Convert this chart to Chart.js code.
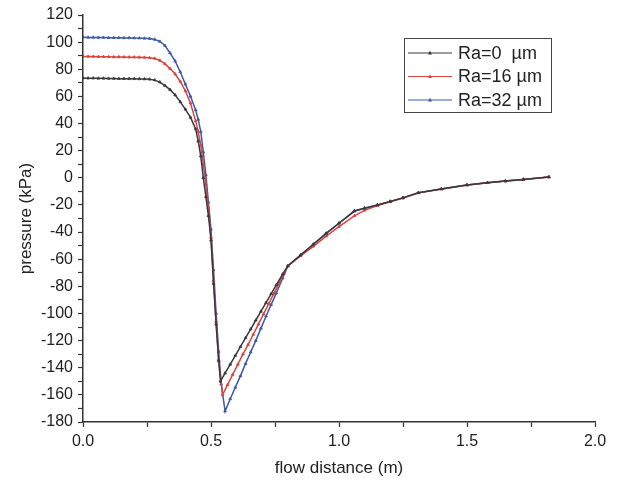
<!DOCTYPE html>
<html>
<head>
<meta charset="utf-8">
<script src="https://cdn.jsdelivr.net/npm/chart.js@4.4.1/dist/chart.umd.min.js"></script>
<style>
html,body{margin:0;padding:0;background:#fff;}
#wrap{width:617px;height:485px;position:relative;}
</style>
</head>
<body>
<div id="wrap"><canvas id="c" width="617" height="485"></canvas></div>
<script>
// ---- data ----
const seriesNames = ["Ra=0  µm", "Ra=16 µm", "Ra=32 µm"];
const seriesColors = ["#3a3a3a", "#d9443f", "#3d5aa8"];

const xRa0 = [0,0.02,0.04,0.06,0.08,0.10,0.12,0.14,0.16,0.18,0.20,0.22,0.24,0.26,
  0.28,0.30,0.32,0.34,0.36,0.38,0.40,0.42,0.44,0.45,0.46,0.47,0.48,0.49,0.50,0.51,0.52,0.53,0.537,
  0.555,0.575,0.595,0.615,0.635,0.655,0.675,0.695,0.715,0.735,0.755,0.78,0.80,
  0.85,0.90,0.95,1.00,1.06,1.10,1.15,1.20,1.25,1.31,1.40,1.50,1.58,1.65,1.72,1.82];
const yRa0 = [73.5,73.4,73.4,73.3,73.3,73.2,73.2,73.1,73.1,73.0,73.0,72.9,72.8,72.6,
  72,70.5,68,65,61,56,50.5,44.5,36,27,16,0,-14,-28,-46,-78,-108,-135,-150,
  -144,-137.5,-131,-124.5,-118,-111.5,-105,-98.5,-92,-85.5,-79,-71,-65,
  -57,-49,-41,-33.5,-24.5,-22.4,-20,-17.4,-14.8,-11,-8.2,-5.3,-3.6,-2.4,-1.2,0.6];

const xRa16 = [0,0.02,0.04,0.06,0.08,0.10,0.12,0.14,0.16,0.18,0.20,0.22,0.24,0.26,
  0.28,0.30,0.32,0.34,0.36,0.38,0.40,0.42,0.44,0.45,0.46,0.47,0.48,0.49,0.50,0.51,0.52,0.53,0.545,
  0.565,0.585,0.605,0.625,0.645,0.665,0.685,0.705,0.725,0.745,0.765,0.785,0.80,
  0.85,0.90,0.95,1.00,1.06,1.10,1.15,1.20,1.25,1.31,1.40,1.50,1.58,1.65,1.72,1.82];
const yRa16 = [89.5,89.4,89.4,89.3,89.3,89.2,89.1,89.1,89.0,88.9,88.9,88.8,88.7,88.5,
  88,86.5,84,80.5,76.5,71,64,55,42,34,24,10,-5,-22,-44,-76,-106,-134,-160,
  -152.5,-145,-137.5,-130,-123,-115.5,-108,-100.5,-93,-85.5,-78,-70.5,-65,
  -57.5,-50.5,-43,-36,-28,-24,-20.5,-17.6,-14.9,-11.1,-8.2,-5.3,-3.6,-2.4,-1.2,0.6];

const xRa32 = [0,0.02,0.04,0.06,0.08,0.10,0.12,0.14,0.16,0.18,0.20,0.22,0.24,0.26,
  0.28,0.30,0.32,0.34,0.36,0.38,0.40,0.42,0.44,0.45,0.46,0.47,0.48,0.49,0.50,0.51,0.52,0.53,0.54,0.555,
  0.575,0.595,0.615,0.635,0.655,0.675,0.695,0.715,0.735,0.755,0.78,0.80,
  0.85,0.90,0.95,1.00,1.06,1.10,1.15,1.20,1.25,1.31,1.40,1.50,1.58,1.65,1.72,1.82];
const yRa32 = [103.6,103.5,103.5,103.4,103.4,103.3,103.3,103.2,103.1,103.1,103.0,102.9,102.8,102.6,
  102,100.5,97.5,92,86,78,69,60,50,43,34,19,2,-18,-38,-68,-100,-128,-152,-172,
  -163,-154.5,-146,-137,-128.5,-120,-111,-102,-93.5,-85,-74,-65,
  -57,-49,-41,-33.5,-24.5,-22.4,-20,-17.4,-14.8,-11,-8.2,-5.3,-3.6,-2.4,-1.2,0.6];

const xTitle = "flow distance (m)";
const yTitle = "pressure (kPa)";

// ---- build chart ----
function pts(xs, ys){ return xs.map((x,i)=>({x:x, y:ys[i]})); }
const allX = [xRa0, xRa16, xRa32];
const allY = [yRa0, yRa16, yRa32];

const datasets = seriesNames.map((n,i)=>({
  label: n,
  data: pts(allX[i], allY[i]),
  borderColor: seriesColors[i],
  backgroundColor: seriesColors[i],
  borderWidth: 1.5,
  pointStyle: 'triangle',
  pointRadius: 1.6,
  pointBorderWidth: 0.8,
  pointBackgroundColor: seriesColors[i],
  pointBorderColor: seriesColors[i],
  tension: 0
}));

const FONT = "'Liberation Sans', Arial, sans-serif";

const legendBox = {
  id: 'legendBox',
  afterDraw(chart){
    const ctx = chart.ctx;
    ctx.save();
    const bx = 404.5, by = 38.5, bw = 147, bh = 74;
    ctx.strokeStyle = '#444';
    ctx.lineWidth = 1;
    ctx.strokeRect(bx, by, bw, bh);
    ctx.font = "18px " + FONT;
    ctx.textBaseline = 'middle';
    seriesNames.forEach((n,i)=>{
      const y = 53 + i*23.5;
      ctx.strokeStyle = seriesColors[i];
      ctx.lineWidth = 1;
      ctx.beginPath(); ctx.moveTo(408, y); ctx.lineTo(452, y); ctx.stroke();
      ctx.fillStyle = seriesColors[i];
      ctx.beginPath(); ctx.moveTo(430, y-2.2); ctx.lineTo(432, y+1.5); ctx.lineTo(428, y+1.5); ctx.closePath(); ctx.fill();
      ctx.fillStyle = '#222';
      ctx.fillText(n, 458, y+1);
    });
    ctx.restore();
  }
};

new Chart(document.getElementById('c'), {
  type: 'line',
  data: { datasets },
  options: {
    responsive: false,
    animation: false,
    layout: { padding: { left: 0, top: 15, right: 22, bottom: 0 } },
    plugins: { legend: { display: false }, tooltip: { enabled: false } },
    scales: {
      x: {
        type: 'linear', min: 0, max: 2,
        afterFit(s){ s.height = 63; },
        border: { display: true, color: '#333', width: 1.5 },
        grid: { display: true, drawOnChartArea: false, drawTicks: true, tickLength: 5, tickColor: '#333', tickWidth: 1.2 },
        ticks: {
          stepSize: 0.25, autoSkip: false, maxRotation: 0, padding: 5,
          color: '#222', font: { family: FONT, size: 16 },
          callback: v => (Math.abs(v*2 - Math.round(v*2)) < 1e-6) ? v.toFixed(1) : ''
        },
        title: { display: true, text: xTitle, color: '#222', font: { family: FONT, size: 17 }, padding: { top: 0, bottom: 6 } }
      },
      y: {
        type: 'linear', min: -180, max: 120,
        afterFit(s){ s.width = 83; },
        border: { display: true, color: '#333', width: 1.5 },
        grid: { display: true, drawOnChartArea: false, drawTicks: true, tickLength: 5, tickColor: '#333', tickWidth: 1.2 },
        ticks: {
          stepSize: 10, autoSkip: false, padding: 5,
          color: '#222', font: { family: FONT, size: 16 },
          callback: v => (Math.round(v) % 20 === 0) ? String(Math.round(v)) : ''
        },
        title: { display: true, text: yTitle, color: '#222', font: { family: FONT, size: 17 }, padding: { top: 16, bottom: 0 } }
      }
    }
  },
  plugins: [legendBox]
});
</script>
</body>
</html>
